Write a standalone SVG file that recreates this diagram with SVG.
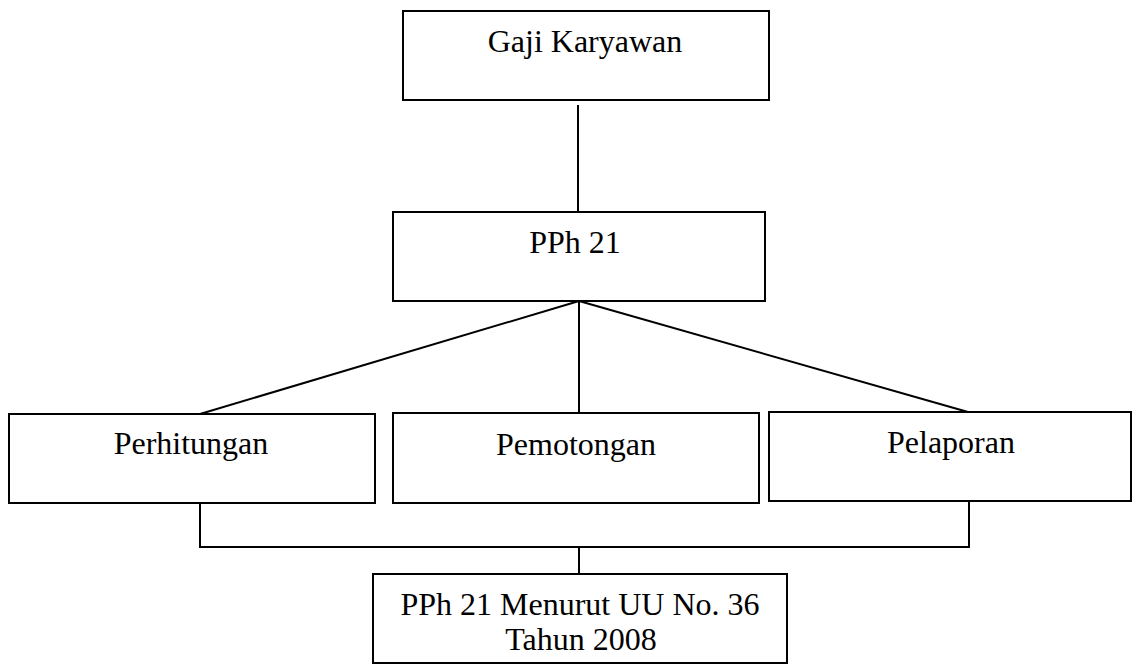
<svg xmlns="http://www.w3.org/2000/svg" width="1134" height="664" viewBox="0 0 1134 664">
<style>
.box{fill:#fff;stroke:#000;stroke-width:2}
.ln{fill:none;stroke:#000;stroke-width:2}
text{font-family:"Liberation Serif","Times New Roman",serif;font-size:32px;fill:#000;text-anchor:middle}
</style>
<rect width="1134" height="664" fill="#fff"/>
<g id="connectors">
<line class="ln" x1="578" y1="105" x2="578" y2="212"/>
<line class="ln" x1="579" y1="301" x2="200" y2="414"/>
<line class="ln" x1="579" y1="301" x2="579" y2="413"/>
<line class="ln" x1="579" y1="301" x2="968" y2="412"/>
<line class="ln" x1="200" y1="503" x2="200" y2="547"/>
<line class="ln" x1="969" y1="501" x2="969" y2="547"/>
<line class="ln" x1="199" y1="547" x2="970" y2="547"/>
<line class="ln" x1="579" y1="547" x2="579" y2="574"/>
</g>
<g id="gaji">
<rect class="box" x="403" y="11" width="366" height="89"/>
<text x="585" y="52">Gaji Karyawan</text>
</g>
<g id="pph21">
<rect class="box" x="393" y="212" width="372" height="89"/>
<text x="575" y="253">PPh 21</text>
</g>
<g id="perhitungan">
<rect class="box" x="9" y="414" width="366" height="89"/>
<text x="191" y="454">Perhitungan</text>
</g>
<g id="pemotongan">
<rect class="box" x="393" y="413" width="366" height="90"/>
<text x="576" y="455">Pemotongan</text>
</g>
<g id="pelaporan">
<rect class="box" x="769" y="412" width="362" height="89"/>
<text x="951" y="453">Pelaporan</text>
</g>
<g id="uu36">
<rect class="box" x="373" y="574" width="414" height="89"/>
<text x="580" y="615">PPh 21 Menurut UU No. 36</text>
<text x="581" y="650">Tahun 2008</text>
</g>
</svg>
